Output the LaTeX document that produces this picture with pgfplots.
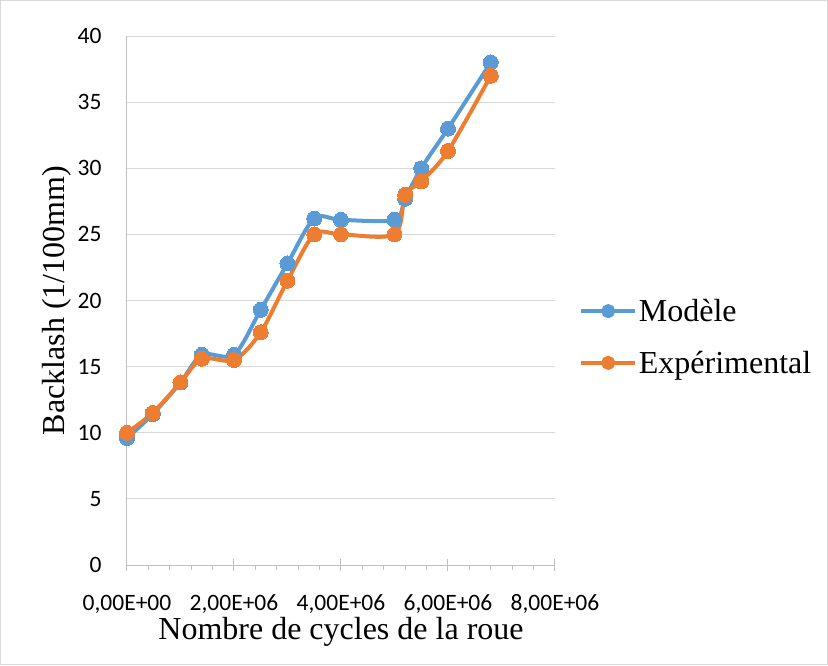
\documentclass[border=0pt]{standalone}
\usepackage{fontspec}
\setmainfont{Liberation Serif}
\newfontfamily\calib{Carlito}
\usepackage{pgfplots}
\pgfplotsset{compat=1.18}

\definecolor{xlblue}{HTML}{5B9BD5}
\definecolor{xlorange}{HTML}{ED7D31}
\definecolor{gridgray}{HTML}{D9D9D9}
\definecolor{axisgray}{HTML}{BFBFBF}

\begin{document}
\begin{tikzpicture}
\useasboundingbox (-127pt,-100pt) rectangle (701pt,565pt);
\draw[gridgray, line width=1pt] (-126.5pt,-99.5pt) rectangle (700.5pt,564.5pt);
\begin{axis}[
    at={(0,0)}, anchor=south west,
    scale only axis,
    width=428pt, height=529pt,
    xmin=0, xmax=8e6,
    ymin=0, ymax=40,
    axis lines*=left,
    axis line style={axisgray, line width=1pt},
    xtick={0,2e6,4e6,6e6,8e6},
    xticklabels={{0,00E+00},{2,00E+06},{4,00E+06},{6,00E+06},{8,00E+06}},
    minor x tick num=4,
    scaled x ticks=false,
    ytick={0,5,...,40},
    ymajorgrids,
    grid style={gridgray, line width=1pt},
    tick align=center,
    major tick length=12pt,
    minor tick length=5pt,
    x tick style={axisgray, line width=1pt},
    minor x tick style={yshift=-2.5pt},
    y tick style={draw=none},
    /pgf/number format/assume math mode=true,
    xticklabel style={font=\fontsize{23.5}{28}\selectfont\calib, anchor=base, yshift=-39pt},
    yticklabel style={font=\fontsize{23.5}{28}\selectfont\calib, anchor=east, xshift=-16pt},
    xlabel={Nombre de cycles de la roue},
    ylabel={Backlash (1/100mm)},
    label style={font=\fontsize{32}{38}\selectfont},
    xlabel style={at={(axis description cs:0.5,0)}, anchor=center, yshift=-67pt},
    ylabel style={at={(axis description cs:-0.1636,0.5)}, anchor=center},
    legend style={draw=none, fill=none, at={(axis description cs:1.05,0.431)}, anchor=west,
        font=\fontsize{32}{38}\selectfont, row sep=24pt},
    legend cell align=left,
    legend image code/.code={
        \draw[line width=3.3pt] (0pt,0pt) -- (54pt,0pt);
        \fill (27pt,0pt) circle (5pt);
    },
    clip=false,
]
\addplot[xlblue, line width=4pt, smooth, tension=0.5, mark=*, mark size=7.5pt,
    mark options={solid, fill=xlblue, draw=xlblue, line width=0pt}] coordinates {
    (0,9.6) (0.48e6,11.4) (1e6,13.8) (1.4e6,15.9) (2e6,15.9) (2.5e6,19.3)
    (3e6,22.8) (3.5e6,26.2) (4e6,26.1) (5e6,26.1) (5.2e6,27.7) (5.5e6,30)
    (6e6,33) (6.8e6,38)
};
\addlegendentry{Modèle}
\addplot[xlorange, line width=4pt, smooth, tension=0.5, mark=*, mark size=7.5pt,
    mark options={solid, fill=xlorange, draw=xlorange, line width=0pt}] coordinates {
    (0,10) (0.48e6,11.5) (1e6,13.8) (1.4e6,15.6) (2e6,15.5) (2.5e6,17.6)
    (3e6,21.5) (3.5e6,25) (4e6,25) (5e6,25) (5.2e6,28) (5.5e6,29)
    (6e6,31.3) (6.8e6,37)
};
\addlegendentry{Expérimental}
\end{axis}
\end{tikzpicture}
\end{document}
